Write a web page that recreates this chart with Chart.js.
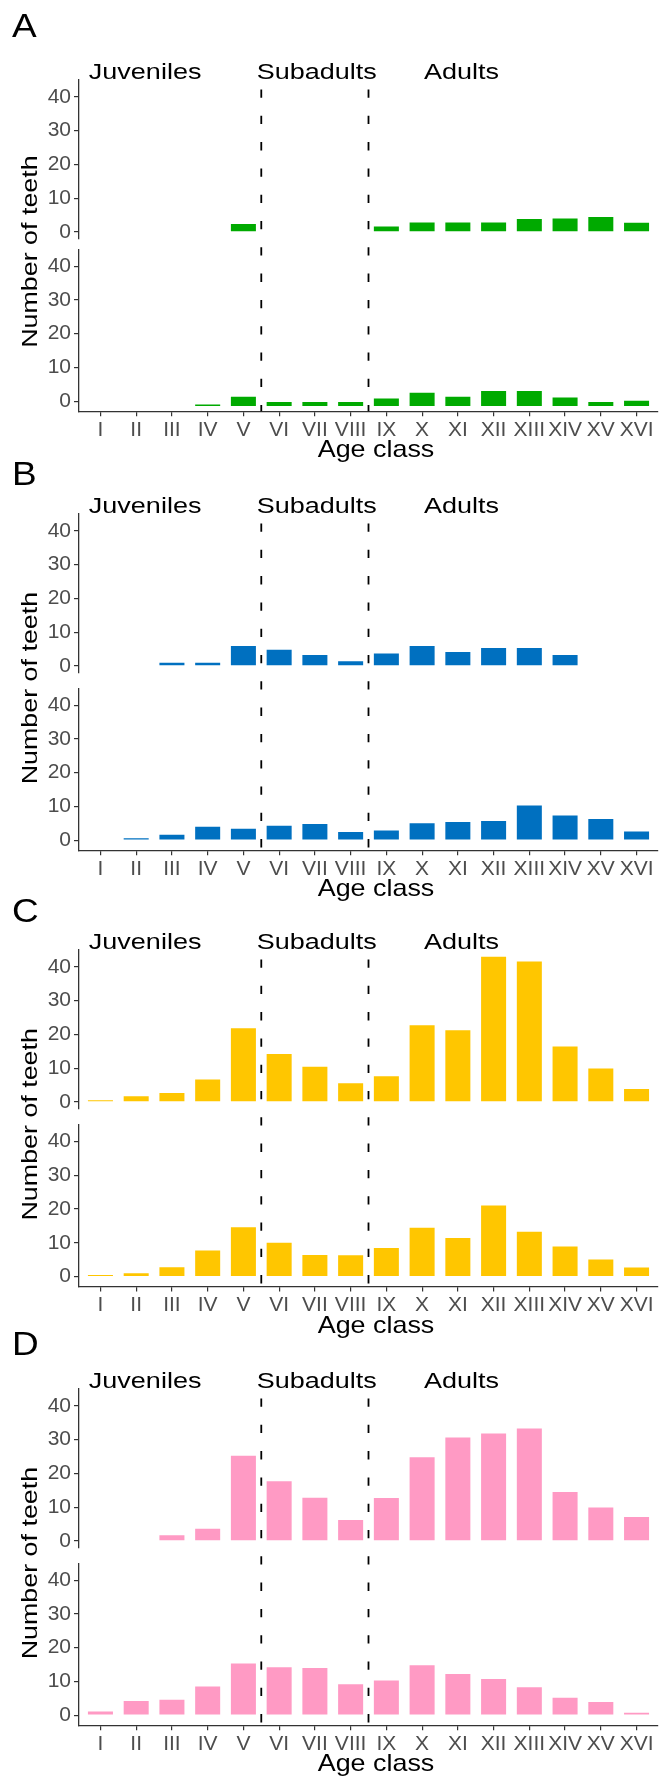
<!DOCTYPE html>
<html>
<head>
<meta charset="utf-8">
<title>Number of teeth by age class</title>
<script src="https://cdn.jsdelivr.net/npm/chart.js@4.4.0/dist/chart.umd.min.js"></script>
<style>
  html, body { margin: 0; padding: 0; background: #fff; }
  body { position: relative; width: 659px; height: 1778px; overflow: hidden; }
  canvas { position: absolute; left: 0; }
</style>
</head>
<body>
<canvas id="panelA"></canvas>
<canvas id="panelB"></canvas>
<canvas id="panelC"></canvas>
<canvas id="panelD"></canvas>
<script>
// x axis categories
const ageClasses = ['I', 'II', 'III', 'IV', 'V', 'VI', 'VII', 'VIII', 'IX', 'X', 'XI', 'XII', 'XIII', 'XIV', 'XV', 'XVI'];
const yTicks = [0, 10, 20, 30, 40];

// age groups: separators sit between V|VI and VIII|IX
const groupNames = ['Juveniles', 'Subadults', 'Adults'];
const groupCenters = [1.25, 6.05, 10.1];
const groupBreaks = [4.5, 7.5];

// counts, upper and lower plot of each panel
const aUpper = [null, null, null, null, 2.3, null, null, null, 1.6, 2.8, 2.8, 2.8, 3.8, 4.0, 4.4, 2.7];
const aLower = [null, null, null, -1.0, 1.3, -0.2, -0.2, -0.2, 0.8, 2.5, 1.3, 3.0, 3.0, 1.1, -0.2, 0.1];
const aLowerBase = -1.45;

const bUpper = [null, null, 0.9, 0.9, 5.9, 4.8, 3.2, 1.4, 3.7, 5.9, 4.1, 5.3, 5.3, 3.2, null, null];
const bLower = [null, 0.6, 1.6, 4.0, 3.4, 4.3, 4.8, 2.4, 2.9, 5.0, 5.4, 5.7, 10.3, 7.3, 6.3, 2.6];

const cUpper = [0.5, 1.7, 2.6, 6.6, 21.8, 14.2, 10.4, 5.5, 7.6, 22.7, 21.2, 43.0, 41.6, 16.4, 9.9, 3.8];
const cLower = [0.5, 1.0, 2.8, 7.7, 14.6, 10.0, 6.4, 6.3, 8.5, 14.5, 11.4, 21.1, 13.3, 8.9, 5.1, 2.7];

const dUpper = [null, null, 1.7, 3.6, 25.2, 17.7, 12.8, 6.2, 12.7, 24.8, 30.6, 31.8, 33.3, 14.5, 9.9, 7.1];
const dLower = [1.1, 4.2, 4.6, 8.5, 15.3, 14.2, 14.0, 9.2, 10.3, 14.8, 12.2, 10.7, 8.3, 5.2, 3.9, 0.7];

const FONT = '"Liberation Sans", Arial, Helvetica, sans-serif';
const TICK_COLOR = '#4d4d4d';
const AXIS_COLOR = '#333';
const CANVAS_H = 476;
const PLOT_TOP = 80;
const UPPER_H = 158.3;
const LOWER_H = 161.9;

const panels = [
  { id: 'panelA', letter: 'A', top: 0,    gap: 11,   letterY: 37, color: '#00aa00', upper: aUpper, lower: aLower, lowerBase: aLowerBase },
  { id: 'panelB', letter: 'B', top: 434,  gap: 16,   letterY: 51, color: '#0070c0', upper: bUpper, lower: bLower },
  { id: 'panelC', letter: 'C', top: 870,  gap: 16.4, letterY: 52, color: '#ffc600', upper: cUpper, lower: cLower },
  { id: 'panelD', letter: 'D', top: 1309, gap: 16,   letterY: 46, color: '#ff9ac4', upper: dUpper, lower: dLower }
];

// text drawn a bit wider than the plain font
function wideText(ctx, text, x, y, size, align, sx, angle) {
  ctx.save();
  ctx.translate(x, y);
  if (angle) ctx.rotate(angle);
  ctx.scale(sx, 1);
  ctx.font = size + 'px ' + FONT;
  ctx.fillStyle = '#000';
  ctx.textAlign = align;
  ctx.textBaseline = 'alphabetic';
  ctx.fillText(text, 0, 0);
  ctx.restore();
}

// dashed separators, group names, panel letter and axis titles
const panelDecor = {
  id: 'panelDecor',
  afterDatasetsDraw(chart) {
    const { ctx, chartArea } = chart;
    const x = chart.scales.x;
    ctx.save();
    ctx.strokeStyle = '#000';
    ctx.lineWidth = 1.8;
    ctx.setLineDash([8.3, 18]);
    groupBreaks.forEach(b => {
      const px = x.getPixelForValue(b);
      ctx.beginPath();
      ctx.moveTo(px, chartArea.top + 9.5);
      ctx.lineTo(px, chartArea.bottom);
      ctx.stroke();
    });
    ctx.restore();
  },
  afterDraw(chart, args, opts) {
    const { ctx, chartArea } = chart;
    const x = chart.scales.x;
    wideText(ctx, opts.letter, 12, opts.letterY, 33, 'left', 1.12);
    groupNames.forEach((name, i) => {
      wideText(ctx, name, x.getPixelForValue(groupCenters[i]), chartArea.top - 1, 22.5, 'center', 1.2);
    });
    const midY = (chartArea.top + chartArea.bottom) / 2 + 6;
    wideText(ctx, 'Number of teeth', 37, midY, 22, 'center', 1.22, -Math.PI / 2);
    wideText(ctx, 'Age class', 376, chartArea.bottom + 46, 24, 'center', 1.12);
  }
};

function yAxis(min, weight, order) {
  return {
    type: 'linear',
    position: 'left',
    stack: 'teeth',
    stackWeight: weight,
    weight: order,
    min: min,
    max: 45,
    afterBuildTicks: s => { s.ticks = yTicks.map(v => ({ value: v })); },
    afterFit: s => { s.width = 79; },
    border: { display: true, color: AXIS_COLOR, width: 1.3 },
    grid: { drawOnChartArea: false, drawTicks: true, tickLength: 5, color: AXIS_COLOR, lineWidth: 1.2 },
    ticks: { autoSkip: false, color: TICK_COLOR, font: { family: FONT, size: 21 }, padding: 3 }
  };
}

function toPoints(values) {
  return values.map((v, i) => ({ x: i, y: v }));
}

panels.forEach(p => {
  const canvas = document.getElementById(p.id);
  canvas.width = 659;
  canvas.height = CANVAS_H;
  canvas.style.top = p.top + 'px';
  const plotH = UPPER_H + p.gap + LOWER_H;

  const lowerSet = {
    data: toPoints(p.lower),
    yAxisID: 'yLower',
    backgroundColor: p.color
  };
  if (p.lowerBase !== undefined) lowerSet.base = p.lowerBase;

  new Chart(canvas, {
    type: 'bar',
    data: {
      datasets: [
        { data: toPoints(p.upper), yAxisID: 'yUpper', backgroundColor: p.color },
        lowerSet
      ]
    },
    options: {
      responsive: false,
      animation: false,
      devicePixelRatio: 1,
      layout: { padding: { top: PLOT_TOP, right: 1, left: 0, bottom: 0 } },
      datasets: { bar: { grouped: false, barPercentage: 0.7, categoryPercentage: 1, borderWidth: 0 } },
      plugins: {
        legend: { display: false },
        tooltip: { enabled: false },
        panelDecor: { letter: p.letter, letterY: p.letterY }
      },
      scales: {
        x: {
          type: 'linear',
          offset: false,
          min: -0.6,
          max: 15.6,
          afterBuildTicks: s => { s.ticks = ageClasses.map((_, i) => ({ value: i })); },
          afterFit: s => { s.height = CANVAS_H - PLOT_TOP - plotH; },
          border: { display: true, color: AXIS_COLOR, width: 1.3 },
          grid: { offset: false, drawOnChartArea: false, drawTicks: true, tickLength: 5, color: AXIS_COLOR, lineWidth: 1.2 },
          ticks: {
            autoSkip: false,
            maxRotation: 0,
            padding: 1,
            color: TICK_COLOR,
            font: { family: FONT, size: 21 },
            callback: v => ageClasses[v]
          }
        },
        yUpper: yAxis(-1.9, UPPER_H, 3),
        yGap: {
          type: 'linear',
          position: 'left',
          stack: 'teeth',
          stackWeight: p.gap,
          weight: 2,
          afterFit: s => { s.width = 79; },
          border: { display: false },
          grid: { display: false },
          ticks: { display: false }
        },
        yLower: yAxis(-2.96, LOWER_H, 1)
      }
    },
    plugins: [panelDecor]
  });
});
</script>
</body>
</html>
